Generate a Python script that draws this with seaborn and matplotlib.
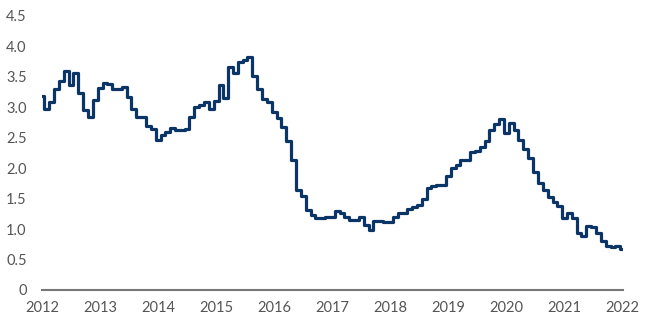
import pandas as pd
import matplotlib
matplotlib.use('Agg')
import matplotlib.pyplot as plt
import matplotlib.dates as mdates
import matplotlib.ticker as mticker
import seaborn as sns

# Monthly values, Jan 2012 .. Jan 2022
start = '2012-01-01'
values = [
    3.19, 2.97, 3.09, 3.30, 3.43, 3.60, 3.36, 3.57, 3.23, 2.95, 2.84, 3.12,   # 2012
    3.31, 3.40, 3.38, 3.30, 3.30, 3.34, 3.17, 2.98, 2.84, 2.84, 2.70, 2.64,   # 2013
    2.47, 2.55, 2.60, 2.66, 2.62, 2.62, 2.64, 2.84, 3.00, 3.04, 3.09, 2.98,   # 2014
    3.11, 3.36, 3.15, 3.66, 3.57, 3.74, 3.77, 3.82, 3.51, 3.30, 3.13, 3.09,   # 2015
    2.92, 2.82, 2.68, 2.44, 2.13, 1.64, 1.54, 1.31, 1.23, 1.18, 1.19, 1.20,   # 2016
    1.20, 1.30, 1.26, 1.20, 1.15, 1.15, 1.20, 1.07, 0.99, 1.14, 1.14, 1.11,   # 2017
    1.11, 1.20, 1.27, 1.27, 1.33, 1.37, 1.40, 1.49, 1.67, 1.70, 1.72, 1.73,   # 2018
    1.87, 2.00, 2.06, 2.13, 2.13, 2.27, 2.29, 2.35, 2.45, 2.63, 2.73, 2.81,   # 2019
    2.58, 2.75, 2.62, 2.47, 2.31, 2.16, 1.93, 1.76, 1.65, 1.52, 1.44, 1.38,   # 2020
    1.19, 1.26, 1.19, 0.94, 0.89, 1.05, 1.03, 0.93, 0.81, 0.73, 0.71, 0.73,   # 2021
    0.67,                                                                     # 2022
]
y_ticks = [0, 0.5, 1.0, 1.5, 2.0, 2.5, 3.0, 3.5, 4.0, 4.5]
y_labels = ['0', '0.5', '1.0', '1.5', '2.0', '2.5', '3.0', '3.5', '4.0', '4.5']

df = pd.DataFrame({'date': pd.date_range(start, periods=len(values), freq='MS'),
                   'value': values})

sns.set_style('white')
plt.rcParams['font.family'] = ['Lato', 'DejaVu Sans']

fig = plt.figure(figsize=(6.5, 3.25), dpi=100)
ax = fig.add_axes([0.0646, 0.1077, 0.8934, 0.8431])

sns.lineplot(data=df, x='date', y='value', ax=ax, color='#0b3566',
             linewidth=2.3, drawstyle='steps-mid')

ax.set_xlim(pd.Timestamp('2012-01-01'), pd.Timestamp('2022-01-01'))
ax.set_ylim(0, 4.5)
ax.set_xlabel('')
ax.set_ylabel('')

ax.xaxis.set_major_locator(mdates.YearLocator())
ax.xaxis.set_major_formatter(mdates.DateFormatter('%Y'))
ax.yaxis.set_major_locator(mticker.FixedLocator(y_ticks))
ax.set_yticklabels(y_labels)

for s in ['top', 'right', 'left']:
    ax.spines[s].set_visible(False)
ax.spines['bottom'].set_color('#777777')
ax.spines['bottom'].set_linewidth(1.5)

ax.tick_params(axis='x', colors='#777777', length=4, width=1.2, pad=4,
               labelsize=10.5, labelcolor='#555555')
ax.tick_params(axis='y', length=0, pad=11, labelsize=10.5, labelcolor='#555555')

fig.savefig('out.png', dpi=100)
